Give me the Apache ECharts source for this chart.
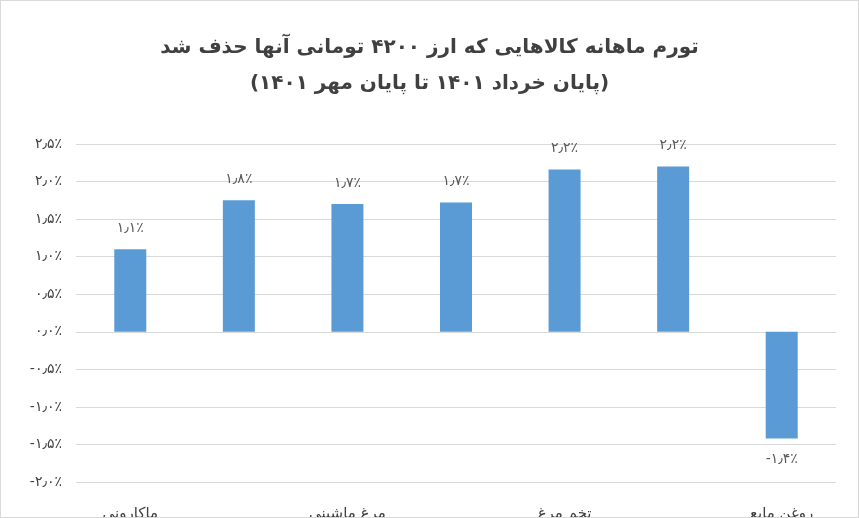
<!DOCTYPE html>
<html><head><meta charset="utf-8">
<script src="https://cdn.jsdelivr.net/npm/echarts@6/dist/echarts.min.js"></script>
<style>html,body{margin:0;padding:0;background:#fff}#c{width:859px;height:518px;box-sizing:border-box;border:1px solid #d9d9d9}</style>
</head><body><div id="c"></div>
<script>
const categories = ['ماکارونی','گوشت قرمز','مرغ ماشینی','پنیر ایرانی\nپاستوریزه','تخم مرغ','کره پاستوریزه','روغن مایع'];
const values = [1.1, 1.75, 1.7, 1.72, 2.16, 2.2, -1.42];
const valueLabels = ['۱٫۱٪','۱٫۸٪','۱٫۷٪','۱٫۷٪','۲٫۲٪','۲٫۲٪','-۱٫۴٪'];
const fa = s => String(s).replace(/\d/g, d => '۰۱۲۳۴۵۶۷۸۹'[d]).replace('.', '٫');
const chart = echarts.init(document.getElementById('c'));
chart.setOption({
  animation:false,
  title:{text:'تورم ماهانه کالاهایی که ارز ۴۲۰۰ تومانی آنها حذف شد\n(پایان خرداد ۱۴۰۱ تا پایان مهر ۱۴۰۱)',left:'center',top:24,
    textStyle:{fontFamily:'DejaVu Sans',fontWeight:'bold',fontSize:20,color:'#404040',lineHeight:36}},
  grid:{left:75,right:22,top:143,bottom:35,outerBoundsMode:'none',containLabel:false},
  xAxis:{type:'category',data:categories,axisTick:{show:false},axisLine:{onZero:true,lineStyle:{color:'#d9d9d9'}},
    axisLabel:{color:'#404040',fontSize:15,fontFamily:'DejaVu Sans',margin:18,lineHeight:28}},
  yAxis:{type:'value',min:-2,max:2.5,interval:0.5,axisLine:{show:false},
    splitLine:{lineStyle:{color:'#d9d9d9'}},
    axisLabel:{color:'#404040',fontSize:14,fontFamily:'DejaVu Sans',margin:14,
      formatter:v=>(v<0?'-':'')+fa(Math.abs(v).toFixed(1))+'٪'}},
  series:[{type:'bar',data:values,barWidth:32,itemStyle:{color:'#5b9bd5'},
    label:{show:true,position:'outside',distance:14,color:'#595959',fontSize:14,fontFamily:'DejaVu Sans',
      formatter:p=>valueLabels[p.dataIndex]}}]
});
</script></body></html>
